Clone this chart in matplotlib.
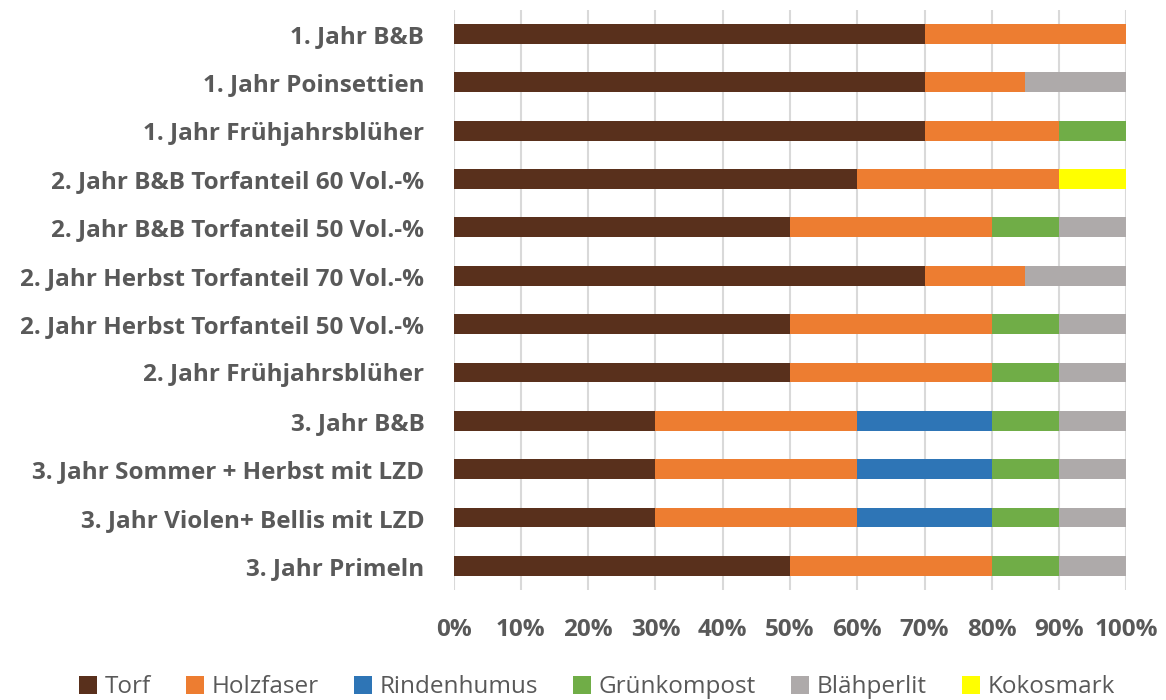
import matplotlib.pyplot as plt
import numpy as np
from matplotlib.ticker import PercentFormatter

categories = [
    "1. Jahr B&B",
    "1. Jahr Poinsettien",
    "1. Jahr Frühjahrsblüher",
    "2. Jahr B&B Torfanteil 60 Vol.-%",
    "2. Jahr B&B Torfanteil 50 Vol.-%",
    "2. Jahr Herbst Torfanteil 70 Vol.-%",
    "2. Jahr Herbst Torfanteil 50 Vol.-%",
    "2. Jahr Frühjahrsblüher",
    "3. Jahr B&B",
    "3. Jahr Sommer + Herbst mit LZD",
    "3. Jahr Violen+ Bellis mit LZD",
    "3. Jahr Primeln",
]

torf = [70, 70, 70, 60, 50, 70, 50, 50, 30, 30, 30, 50]
holzfaser = [30, 15, 20, 30, 30, 15, 30, 30, 30, 30, 30, 30]
rindenhumus = [0, 0, 0, 0, 0, 0, 0, 0, 20, 20, 20, 0]
gruenkompost = [0, 0, 10, 0, 10, 0, 10, 10, 10, 10, 10, 10]
blaehperlit = [0, 15, 0, 0, 10, 15, 10, 10, 10, 10, 10, 10]
kokosmark = [0, 0, 0, 10, 0, 0, 0, 0, 0, 0, 0, 0]

series = [
    ("Torf", torf, "#59301C"),
    ("Holzfaser", holzfaser, "#ED7D31"),
    ("Rindenhumus", rindenhumus, "#2E75B6"),
    ("Grünkompost", gruenkompost, "#70AD47"),
    ("Blähperlit", blaehperlit, "#AEAAAA"),
    ("Kokosmark", kokosmark, "#FFFF00"),
]

plt.rcParams['font.family'] = ['Open Sans', 'DejaVu Sans']
text_col = "#595959"

fig = plt.figure(figsize=(11.66, 7), dpi=100)
ax = fig.add_axes([0.389, 0.157, 0.577, 0.829])

y = np.arange(len(categories))
left = np.zeros(len(categories))
for name, vals, col in series:
    vals = np.array(vals, dtype=float)
    ax.barh(y, vals, left=left, height=0.41, color=col, label=name, zorder=3)
    left += vals

ax.set_xlim(0, 100)
ax.set_ylim(len(categories) - 0.5, -0.5)
ax.set_yticks(y)
ax.set_yticklabels(categories, fontsize=17.5, fontweight='bold', color=text_col)
ax.set_xticks(np.arange(0, 101, 10))
ax.xaxis.set_major_formatter(PercentFormatter(decimals=0))
for lab in ax.get_xticklabels():
    lab.set_fontweight('bold')
ax.tick_params(axis='x', length=0, pad=20, labelsize=17.5, labelcolor=text_col)
ax.tick_params(axis='y', length=0, pad=21)
ax.grid(axis='x', color='#D9D9D9', linewidth=1.5, zorder=0)
for s in ax.spines.values():
    s.set_visible(False)

leg = fig.legend(loc='lower center', bbox_to_anchor=(0.512, -0.03), ncol=6,
                 frameon=False, fontsize=17.5, handlelength=0.75, handleheight=0.75,
                 handletextpad=0.3, columnspacing=1.45)
for t in leg.get_texts():
    t.set_color(text_col)

fig.savefig("out.png", dpi=100)
